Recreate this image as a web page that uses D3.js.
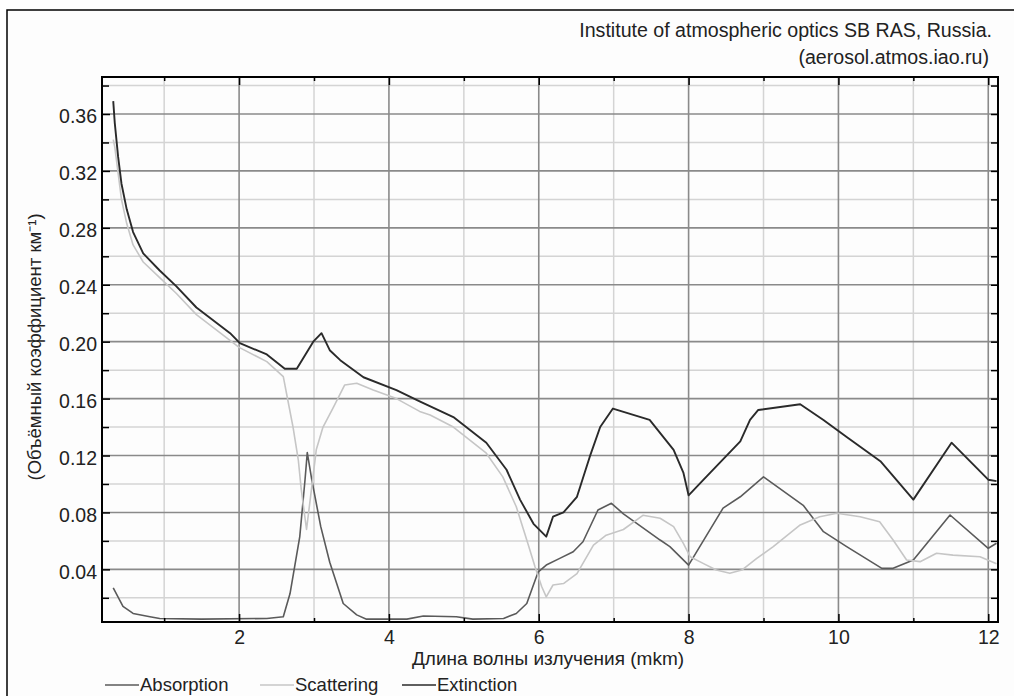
<!DOCTYPE html>
<html>
<head>
<meta charset="utf-8">
<script src="https://cdn.jsdelivr.net/npm/d3@7"></script>
<style>
  html, body { margin: 0; padding: 0; background: #fff; }
  svg { display: block; font-family: "Liberation Sans", Arial, sans-serif; }
  .axis path.domain { display: none; }
  .axis line { stroke: #000; stroke-width: 1.5; }
  .axis text { font-size: 19.5px; fill: #222; font-family: "Liberation Sans", Arial, sans-serif; }
</style>
</head>
<body>
<svg id="chart" width="1014" height="696"></svg>
<script>
// wavelength (mkm), coefficient (km^-1)
const extinction = [
  [0.32, 0.369], [0.34, 0.354], [0.385, 0.330], [0.43, 0.311], [0.50, 0.293],
  [0.585, 0.277], [0.72, 0.262], [0.94, 0.250], [1.16, 0.239], [1.43, 0.224],
  [1.88, 0.206], [2.01, 0.199], [2.37, 0.191], [2.61, 0.181], [2.77, 0.181],
  [2.99, 0.200], [3.10, 0.206], [3.21, 0.194], [3.35, 0.187], [3.66, 0.175],
  [4.10, 0.166], [4.41, 0.158], [4.86, 0.147], [5.30, 0.129], [5.57, 0.110],
  [5.75, 0.089], [5.93, 0.072], [6.10, 0.063], [6.19, 0.077], [6.33, 0.080],
  [6.51, 0.091], [6.68, 0.119], [6.82, 0.140], [6.99, 0.153], [7.48, 0.145],
  [7.80, 0.124], [7.93, 0.108], [8.00, 0.092], [8.20, 0.103], [8.69, 0.130],
  [8.82, 0.145], [8.93, 0.152], [9.49, 0.156], [9.80, 0.145], [10.11, 0.133],
  [10.56, 0.116], [11.00, 0.089], [11.51, 0.129], [12.00, 0.103], [12.11, 0.102]
];

const absorption = [
  [0.32, 0.027], [0.45, 0.014], [0.585, 0.009], [0.81, 0.0067], [0.94, 0.0055],
  [1.5, 0.005], [2.37, 0.0055], [2.59, 0.0067], [2.68, 0.023], [2.81, 0.063],
  [2.88, 0.103], [2.91, 0.122], [2.97, 0.103], [3.09, 0.070], [3.21, 0.045],
  [3.39, 0.016], [3.57, 0.008], [3.70, 0.005], [4.24, 0.005], [4.46, 0.0072],
  [4.90, 0.0067], [5.12, 0.005], [5.53, 0.0055], [5.70, 0.009], [5.84, 0.016],
  [5.99, 0.038], [6.10, 0.043], [6.28, 0.0477], [6.46, 0.0524], [6.59, 0.0594],
  [6.79, 0.0817], [6.97, 0.0864], [7.13, 0.079], [7.62, 0.0606], [7.75, 0.056],
  [8.00, 0.043], [8.46, 0.083], [8.69, 0.091], [9.00, 0.105], [9.53, 0.085],
  [9.80, 0.0665], [10.11, 0.056], [10.58, 0.0407], [10.73, 0.0407], [11.00, 0.0466],
  [11.49, 0.0782], [12.00, 0.0548], [12.11, 0.0583]
];

const scattering = [
  [0.32, 0.342], [0.34, 0.337], [0.43, 0.300], [0.50, 0.283], [0.585, 0.268],
  [0.72, 0.256], [0.94, 0.245], [1.16, 0.234], [1.43, 0.219], [2.00, 0.196],
  [2.37, 0.186], [2.59, 0.1755], [2.65, 0.159], [2.72, 0.140], [2.79, 0.117],
  [2.83, 0.096], [2.90, 0.068], [2.97, 0.098], [3.03, 0.124], [3.12, 0.140],
  [3.26, 0.154], [3.41, 0.1696], [3.57, 0.1708], [3.79, 0.166], [4.10, 0.160],
  [4.41, 0.151], [4.55, 0.1485], [4.86, 0.140], [5.30, 0.1216], [5.52, 0.105],
  [5.70, 0.084], [5.84, 0.0606], [5.95, 0.0418], [6.04, 0.0278], [6.10, 0.0207],
  [6.19, 0.029], [6.33, 0.030], [6.51, 0.037], [6.73, 0.057], [6.90, 0.064],
  [7.13, 0.068], [7.39, 0.078], [7.62, 0.0759], [7.80, 0.070], [7.93, 0.0583],
  [8.02, 0.0489], [8.20, 0.044], [8.37, 0.0395], [8.55, 0.0372], [8.71, 0.0395],
  [8.91, 0.0477], [9.13, 0.056], [9.49, 0.0712], [9.75, 0.077], [9.98, 0.0794],
  [10.29, 0.077], [10.55, 0.0735], [10.73, 0.0606], [10.91, 0.0466], [11.09, 0.0454],
  [11.31, 0.0513], [11.53, 0.050], [11.89, 0.0489], [12.11, 0.044]
];

const xMajorTicks = [2, 4, 6, 8, 10, 12];
const xMinorTicks = [1, 3, 5, 7, 9, 11];
const yMajorTicks = [0.04, 0.08, 0.12, 0.16, 0.20, 0.24, 0.28, 0.32, 0.36];
const yMinorTicks = [0.02, 0.06, 0.10, 0.14, 0.18, 0.22, 0.26, 0.30, 0.34, 0.38];

const seriesNames = ["Absorption", "Scattering", "Extinction"];
const seriesColors = ["#5a5a5a", "#c6c6c6", "#2a2a2a"];
const seriesWidths = [1.6, 1.6, 1.9];

const titleLines = ["Institute of atmospheric optics SB RAS, Russia.", "(aerosol.atmos.iao.ru)"];
const xTitle = "Длина волны излучения (mkm)";
const yTitle = "(Объёмный коэффициент км⁻¹)";

const svg = d3.select("#chart");
const plot = { left: 102, top: 77, right: 998, bottom: 622 };

const x = d3.scaleLinear().domain([0.17, 12.13]).range([plot.left, plot.right]);
const y = d3.scaleLinear().domain([0.003, 0.386]).range([plot.bottom, plot.top]);

svg.append("rect").attr("width", 1014).attr("height", 696).attr("fill", "#fff");

// outer frame (runs off the right and bottom of the picture)
svg.append("rect")
  .attr("x", 7).attr("y", 10).attr("width", 1040).attr("height", 720)
  .attr("fill", "#fdfdfd").attr("stroke", "#000").attr("stroke-width", 1.5);

svg.append("rect")
  .attr("x", plot.left).attr("y", plot.top)
  .attr("width", plot.right - plot.left).attr("height", plot.bottom - plot.top)
  .attr("fill", "#fdfdfd");

// grid
const grid = svg.append("g");
grid.selectAll(".vminor").data(xMinorTicks).join("line")
  .attr("x1", d => x(d)).attr("x2", d => x(d))
  .attr("y1", plot.top).attr("y2", plot.bottom)
  .attr("stroke", "#d4d4d4").attr("stroke-width", 1.5);
grid.selectAll(".hminor").data(yMinorTicks).join("line")
  .attr("x1", plot.left).attr("x2", plot.right)
  .attr("y1", d => y(d)).attr("y2", d => y(d))
  .attr("stroke", "#d4d4d4").attr("stroke-width", 1.5);
grid.selectAll(".vmajor").data(xMajorTicks).join("line")
  .attr("x1", d => x(d)).attr("x2", d => x(d))
  .attr("y1", plot.top).attr("y2", plot.bottom)
  .attr("stroke", "#8a8a8a").attr("stroke-width", 1.6);
grid.selectAll(".hmajor").data(yMajorTicks).join("line")
  .attr("x1", plot.left).attr("x2", plot.right)
  .attr("y1", d => y(d)).attr("y2", d => y(d))
  .attr("stroke", "#8a8a8a").attr("stroke-width", 1.6);

// curves
const line = d3.line().x(d => x(d[0])).y(d => y(d[1]));
[absorption, scattering, extinction].forEach((data, i) => {
  svg.append("path")
    .attr("d", line(data))
    .attr("fill", "none")
    .attr("stroke", seriesColors[i])
    .attr("stroke-width", seriesWidths[i])
    .attr("stroke-linejoin", "round");
});

// axes, ticks pointing inwards
const fmt = d3.format(".2f");
const yAxis = svg.append("g").attr("class", "axis")
  .attr("transform", `translate(${plot.left},0)`)
  .call(d3.axisLeft(y).tickValues(yMajorTicks).tickFormat(fmt).tickSize(-8).tickSizeOuter(0).tickPadding(5));
yAxis.selectAll("text").attr("dy", null).attr("y", 9);
svg.append("g").attr("class", "axis")
  .attr("transform", `translate(${plot.left},0)`)
  .call(d3.axisLeft(y).tickValues(yMinorTicks).tickFormat("").tickSize(-7).tickSizeOuter(0));
svg.append("g").attr("class", "axis")
  .attr("transform", `translate(${plot.right},0)`)
  .call(d3.axisRight(y).tickValues(yMajorTicks.concat(yMinorTicks)).tickFormat("").tickSize(-7).tickSizeOuter(0));

svg.append("g").attr("class", "axis")
  .attr("transform", `translate(0,${plot.bottom})`)
  .call(d3.axisBottom(x).tickValues(xMajorTicks).tickFormat(d3.format("d")).tickSize(-8).tickSizeOuter(0).tickPadding(8));
svg.append("g").attr("class", "axis")
  .attr("transform", `translate(0,${plot.bottom})`)
  .call(d3.axisBottom(x).tickValues(xMinorTicks).tickFormat("").tickSize(-4).tickSizeOuter(0));
svg.append("g").attr("class", "axis")
  .attr("transform", `translate(0,${plot.top})`)
  .call(d3.axisTop(x).tickValues(xMajorTicks).tickFormat("").tickSize(-8).tickSizeOuter(0));
svg.append("g").attr("class", "axis")
  .attr("transform", `translate(0,${plot.top})`)
  .call(d3.axisTop(x).tickValues(xMinorTicks).tickFormat("").tickSize(-4).tickSizeOuter(0));

svg.append("rect")
  .attr("x", plot.left).attr("y", plot.top)
  .attr("width", plot.right - plot.left).attr("height", plot.bottom - plot.top)
  .attr("fill", "none").attr("stroke", "#000").attr("stroke-width", 2);

// titles
svg.append("text").attr("x", 992).attr("y", 37).attr("text-anchor", "end")
  .attr("font-size", 19.6).attr("fill", "#222").text(titleLines[0]);
svg.append("text").attr("x", 989).attr("y", 64).attr("text-anchor", "end")
  .attr("font-size", 19.6).attr("fill", "#222").text(titleLines[1]);

svg.append("text").attr("x", 548).attr("y", 665).attr("text-anchor", "middle")
  .attr("font-size", 19).attr("fill", "#222").text(xTitle);

svg.append("text").attr("transform", "translate(41,347) rotate(-90)")
  .attr("text-anchor", "middle").attr("font-size", 18.5).attr("fill", "#222").text(yTitle);

// legend
const legendX = [105, 260, 402];
const legend = svg.append("g");
seriesNames.forEach((name, i) => {
  const g = legend.append("g").attr("transform", `translate(${legendX[i]},685)`);
  g.append("line").attr("x1", 0).attr("x2", 34).attr("y1", 0).attr("y2", 0)
    .attr("stroke", seriesColors[i]).attr("stroke-width", 1.5);
  g.append("text").attr("x", 35).attr("y", 6).attr("font-size", 18.5).attr("fill", "#222").text(name);
});
</script>
</body>
</html>
